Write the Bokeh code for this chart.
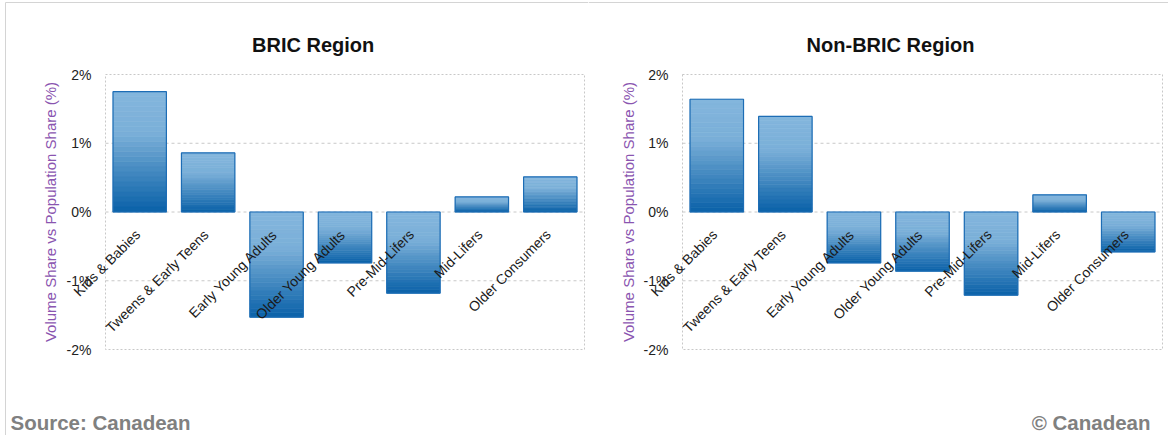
import math
from bokeh.plotting import figure
from bokeh.layouts import row
from bokeh.models import (Range1d, FixedTicker, PrintfTickFormatter, Label,
                          LinearAxis)
from bokeh.core.properties import value
from bokeh.embed import file_html
from bokeh.resources import INLINE

# ---------------- data ----------------
categories = ["Kids & Babies", "Tweens & Early Teens", "Early Young Adults",
              "Older Young Adults", "Pre-Mid-Lifers", "Mid-Lifers", "Older Consumers"]
bric_values = [1.75, 0.86, -1.53, -0.74, -1.18, 0.22, 0.51]
nonbric_values = [1.64, 1.39, -0.74, -0.86, -1.21, 0.25, -0.58]
y_ticks = [-2, -1, 0, 1, 2]
titles = ["BRIC Region", "Non-BRIC Region"]
y_axis_title = "Volume Share vs Population Share (%)"
source_text = "Source: Canadean"
copyright_text = "\u00a9 Canadean"

FONT = "Liberation Sans"
H = 435
N_BANDS = 24
BAR_W = 0.78
FRAME_COLOR = "#d4d4d4"


def hex2rgb(h):
    h = h.lstrip("#")
    return tuple(int(h[i:i + 2], 16) for i in (0, 2, 4))


def rgb2hex(c):
    return "#%02x%02x%02x" % tuple(int(round(v)) for v in c)


def lerp(c1, c2, t):
    a, b = hex2rgb(c1), hex2rgb(c2)
    return rgb2hex([a[i] + (b[i] - a[i]) * t for i in range(3)])


def grad_color(f):
    # f: 0 at top of bar, 1 at bottom
    if f < 0.35:
        return lerp("#84b6dd", "#7aafd8", f / 0.35)
    return lerp("#7aafd8", "#0a61a8", (f - 0.35) / 0.65)


def make_panel(vals, title, width, box_left, box_right, box_top, box_bottom,
               title_x, footer, ytitle_x, border_left_px):
    n = len(categories)
    xmin_d, xmax_d = -0.5, n - 0.5
    ymin_d, ymax_d = min(y_ticks), max(y_ticks)
    # map pixel layout of the plotting box to data ranges of a full-canvas frame
    xs_per = (box_right - box_left) / (xmax_d - xmin_d)
    ys_per = (box_bottom - box_top) / (ymax_d - ymin_d)
    x_start = xmin_d - box_left / xs_per
    x_end = xmax_d + (width - box_right) / xs_per
    y_end = ymax_d + box_top / ys_per
    y_start = ymin_d - (H - box_bottom) / ys_per

    def px_x(px):
        return x_start + px / xs_per

    def px_y(py):
        return y_end - py / ys_per

    p = figure(width=width, height=H, output_backend="svg", toolbar_location=None,
               x_range=Range1d(x_start, x_end), y_range=Range1d(y_start, y_end),
               x_axis_location=None, y_axis_location=None,
               min_border=0, min_border_left=0, min_border_right=0,
               min_border_top=0, min_border_bottom=0,
               background_fill_color="white", border_fill_color="white")
    p.outline_line_color = None
    p.xgrid.visible = False
    p.ygrid.visible = False

    idx = list(range(n))

    # outer image frame (top line, and left line on the first panel)
    x0_top = px_x(border_left_px if border_left_px is not None else 0)
    p.segment(x0=[x0_top], x1=[x_end], y0=[px_y(2)], y1=[px_y(2)],
              line_color=FRAME_COLOR, line_width=1)
    if border_left_px is not None:
        p.segment(x0=[px_x(border_left_px)], x1=[px_x(border_left_px)],
                  y0=[px_y(2)], y1=[y_start], line_color=FRAME_COLOR, line_width=1)

    # gridlines and plotting box
    inner = [t for t in y_ticks if t not in (ymin_d, ymax_d)]
    p.segment(x0=[xmin_d] * len(inner), x1=[xmax_d] * len(inner), y0=inner, y1=inner,
              line_color="#c8c8c8", line_dash="3 3", line_width=1)
    p.quad(left=[xmin_d], right=[xmax_d], bottom=[ymin_d], top=[ymax_d],
           fill_color=None, line_color="#c8c8c8", line_dash="2 2", line_width=1)

    # gradient bars built from bands
    xs, tops, bottoms, colors = [], [], [], []
    for i, v in zip(idx, vals):
        t, b = max(0.0, v), min(0.0, v)
        for k in range(N_BANDS):
            xs.append(i)
            tops.append(t - (t - b) * k / N_BANDS)
            bottoms.append(t - (t - b) * (k + 1) / N_BANDS)
            colors.append(grad_color((k + 0.5) / N_BANDS))
    p.vbar(x=xs, top=tops, bottom=bottoms, width=BAR_W, fill_color=colors,
           line_color=colors, line_width=0.6)
    p.vbar(x=idx, top=[max(0.0, v) for v in vals],
           bottom=[min(0.0, v) for v in vals], width=BAR_W,
           fill_color=None, line_color="#1d6db5", line_width=1.2)

    # category labels at the zero line
    p.text(x=idx, y=[0] * n, text=categories,
           angle=math.pi / 4, text_align="right", text_baseline="middle",
           x_offset=-2, y_offset=20, text_font=value(FONT),
           text_font_size="14px", text_color="#1a1a1a")

    # y axis fixed at the left edge of the plotting box
    yax = LinearAxis(fixed_location=xmin_d)
    yax.ticker = FixedTicker(ticks=y_ticks)
    yax.formatter = PrintfTickFormatter(format="%d%%")
    yax.axis_line_color = None
    yax.major_tick_line_color = None
    yax.minor_tick_line_color = None
    yax.major_label_standoff = 8
    yax.major_label_text_font = FONT
    yax.major_label_text_font_size = "14px"
    yax.major_label_text_color = "#222222"
    p.add_layout(yax, "left")

    # y-axis title, centred on the value range
    p.text(x=[px_x(ytitle_x)], y=[(ymin_d + ymax_d) / 2], text=[y_axis_title],
           angle=math.pi / 2, text_align="center", text_baseline="middle",
           text_font=value(FONT), text_font_size="15px", text_color="#8a55b0")

    p.add_layout(Label(x=title_x, y=H - 44, x_units="screen", y_units="screen",
                       text=title, text_align="center", text_baseline="alphabetic",
                       text_font=FONT, text_font_size="20px",
                       text_font_style="bold", text_color="#111111"))
    if footer is not None:
        ftext, fx, falign = footer
        p.add_layout(Label(x=fx, y=H - 422, x_units="screen", y_units="screen",
                           text=ftext, text_align=falign, text_baseline="alphabetic",
                           text_font=FONT, text_font_size="20.5px",
                           text_font_style="bold", text_color="#808080"))
    return p


p1 = make_panel(bric_values, titles[0], 588, 105, 584, 74, 349, 312.7,
                (source_text, 10, "left"), 50, 5)
p2 = make_panel(nonbric_values, titles[1], 580, 94, 574, 74, 349, 302,
                (copyright_text, 562, "right"), 40, None)

layout = row(p1, p2)
open("out.html", "w").write(file_html(layout, INLINE))
